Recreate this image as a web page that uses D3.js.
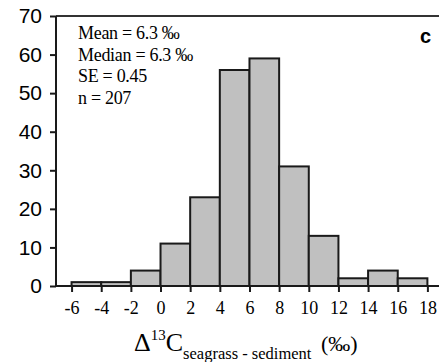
<!DOCTYPE html>
<html>
<head>
<meta charset="utf-8">
<script src="https://cdn.jsdelivr.net/npm/d3@7"></script>
<style>
  html, body { margin: 0; padding: 0; background: #fff; }
  svg { display: block; }
</style>
</head>
<body>
<div id="chart"></div>
<script>
// histogram bins (lower edge, width 2) and counts
var binStarts = [-6, -4, -2, 0, 2, 4, 6, 8, 10, 12, 14, 16];
var counts = [1, 1, 4, 11, 23, 56, 59, 31, 13, 2, 4, 2];
var binWidth = 2;
var xTicks = [-6, -4, -2, 0, 2, 4, 6, 8, 10, 12, 14, 16, 18];
var yTicks = [0, 10, 20, 30, 40, 50, 60, 70];
var statLines = ['Mean = 6.3 \u2030', 'Median = 6.3 \u2030', 'SE = 0.45', 'n = 207'];

var W = 439, H = 362;
var svg = d3.select('#chart').append('svg')
  .attr('width', W).attr('height', H);

var x = d3.scaleLinear().domain([-7.05, 18.85]).range([56, 440]);
var y = d3.scaleLinear().domain([0, 70]).range([286, 16]);

var bins = binStarts.map(function(s, i) { return { x0: s, x1: s + binWidth, n: counts[i] }; });

// bars
svg.append('g').selectAll('rect')
  .data(bins)
  .enter().append('rect')
  .attr('x', function(d) { return x(d.x0); })
  .attr('y', function(d) { return y(d.n); })
  .attr('width', function(d) { return x(d.x1) - x(d.x0); })
  .attr('height', function(d) { return y(0) - y(d.n); })
  .attr('fill', '#c0c0c0')
  .attr('stroke', '#1a1a1a')
  .attr('stroke-width', 2);

// top frame line
svg.append('line')
  .attr('x1', x.range()[0]).attr('x2', W)
  .attr('y1', y(70)).attr('y2', y(70))
  .attr('stroke', '#333').attr('stroke-width', 2);

// y axis
var yAxis = svg.append('g')
  .attr('transform', 'translate(' + x.range()[0] + ',0)')
  .call(d3.axisLeft(y).tickValues(yTicks).tickSize(6).tickPadding(8));
yAxis.selectAll('text')
  .attr('fill', '#000')
  .style('font-family', '"Liberation Sans", Arial, sans-serif')
  .style('font-size', '21px');

// x axis (plain hyphen for negatives, as in the original)
var xAxis = svg.append('g')
  .attr('transform', 'translate(0,' + y(0) + ')')
  .call(d3.axisBottom(x).tickValues(xTicks).tickSize(6).tickPadding(9)
    .tickFormat(function(d) { return String(d); }));
xAxis.selectAll('text')
  .attr('fill', '#000')
  .style('font-family', '"Liberation Serif", "Times New Roman", serif')
  .style('font-size', '18px');

svg.selectAll('.domain, .tick line').attr('stroke', '#1a1a1a').attr('stroke-width', 2);
yAxis.select('.domain').attr('d', 'M0,' + y(0) + 'V' + y(70));
xAxis.select('.domain').attr('d', 'M' + x.range()[0] + ',0H' + W);

// stats block
svg.append('g').selectAll('text')
  .data(statLines)
  .enter().append('text')
  .attr('x', 78)
  .attr('y', function(d, i) { return 39 + i * 21.5; })
  .style('font-family', '"Liberation Serif", "Times New Roman", serif')
  .style('font-size', '18px')
  .style('letter-spacing', '-0.3px')
  .text(function(d) { return d; });

// panel letter
svg.append('text')
  .attr('x', 431).attr('y', 43)
  .attr('text-anchor', 'end')
  .style('font-family', '"Liberation Sans", Arial, sans-serif')
  .style('font-weight', 'bold')
  .style('font-size', '20px')
  .text('c');

// x axis title
var title = svg.append('text')
  .attr('x', 134).attr('y', 351)
  .style('font-family', '"Liberation Serif", "Times New Roman", serif')
  .style('font-size', '26px');
title.append('tspan').text('\u0394');
title.append('tspan').attr('dy', -11).style('font-size', '15px').text('13');
title.append('tspan').attr('dy', 11).text('C');
title.append('tspan').attr('dy', 8).style('font-size', '16.5px').text('seagrass - sediment');
title.append('tspan').attr('dy', -8).attr('dx', 4).style('font-size', '22px').text(' (\u2030)');
</script>
</body>
</html>
